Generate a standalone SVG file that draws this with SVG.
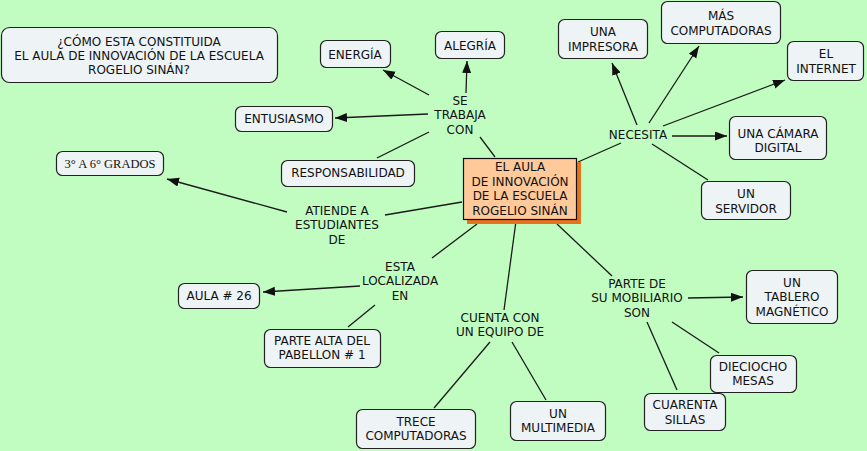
<svg xmlns="http://www.w3.org/2000/svg" width="867" height="451" viewBox="0 0 867 451">
<defs>
<marker id="arr" markerUnits="userSpaceOnUse" markerWidth="13" markerHeight="10" refX="12" refY="4.5" orient="auto">
<path d="M0,0 L12,4.5 L0,9 z" fill="#111"/>
</marker>
<style>
.bg{fill:#c1fdc1}
.n{fill:#eef3f6;stroke:#222;stroke-width:1.2}
.t{font-family:"DejaVu Sans",Verdana,sans-serif;font-size:12px;fill:#111;text-anchor:middle}
.s{font-family:"Liberation Serif","Times New Roman",serif;font-size:12.5px;fill:#111;text-anchor:middle}
.c{stroke:#1a1a1a;stroke-width:1.3;fill:none}
.a{stroke:#1a1a1a;stroke-width:1.3;fill:none;marker-end:url(#arr)}
</style>
</defs>
<rect class="bg" x="0" y="0" width="867" height="451"/>
<g id="connectors">
<line class="c" x1="495" y1="157" x2="480" y2="137"/>
<line class="a" x1="429" y1="95" x2="383" y2="70"/>
<line class="a" x1="466" y1="93" x2="467" y2="61"/>
<line class="a" x1="428" y1="114" x2="335" y2="118"/>
<line class="c" x1="429" y1="132" x2="377" y2="158"/>
<line class="c" x1="462" y1="202" x2="385" y2="215"/>
<line class="a" x1="287" y1="212" x2="167" y2="179"/>
<line class="c" x1="477" y1="224" x2="432" y2="258"/>
<line class="a" x1="360" y1="286" x2="263" y2="292"/>
<line class="c" x1="375" y1="305" x2="348" y2="327"/>
<line class="c" x1="516" y1="221" x2="504" y2="310"/>
<line class="c" x1="490" y1="342" x2="434" y2="408"/>
<line class="c" x1="512" y1="342" x2="546" y2="400"/>
<line class="c" x1="557" y1="224" x2="612" y2="276"/>
<line class="a" x1="688" y1="298" x2="743" y2="297"/>
<line class="c" x1="672" y1="322" x2="719" y2="353"/>
<line class="c" x1="647" y1="322" x2="677" y2="390"/>
<line class="c" x1="578" y1="162" x2="621" y2="143"/>
<line class="a" x1="637" y1="125" x2="612" y2="63"/>
<line class="a" x1="649" y1="123" x2="699" y2="46"/>
<line class="a" x1="663" y1="126" x2="785" y2="80"/>
<line class="a" x1="672" y1="136" x2="727" y2="136"/>
<line class="c" x1="652" y1="144" x2="708" y2="180"/>
</g>
<g id="title">
<rect class="n" x="1.5" y="27.5" width="276" height="55" rx="8"/>
<text class="t" x="139" y="46.4">¿CÓMO ESTA CONSTITUIDA</text>
<text class="t" x="139" y="60.4">EL AULA DE INNOVACIÓN DE LA ESCUELA</text>
<text class="t" x="139" y="74.4">ROGELIO SINÁN?</text>
</g>
<g id="center">
<rect x="467" y="162" width="114" height="62" fill="#e8731e"/>
<rect x="463.5" y="158.5" width="113" height="61" fill="#ffc99a" stroke="#111" stroke-width="1.2"/>
<text class="t" x="520" y="171">EL AULA</text>
<text class="t" x="520" y="185.5"> DE INNOVACIÓN</text>
<text class="t" x="520" y="200">DE LA ESCUELA</text>
<text class="t" x="520" y="214.5">ROGELIO SINÁN</text>
</g>
<g id="energia">
<rect class="n" x="320.5" y="40.5" width="70" height="27" rx="6"/>
<text class="t" x="355" y="59.4">ENERGÍA</text>
</g>
<g id="alegria">
<rect class="n" x="435.5" y="31.5" width="69" height="27" rx="6"/>
<text class="t" x="470" y="50">ALEGRÍA</text>
</g>
<g id="entusiasmo">
<rect class="n" x="235.5" y="106.5" width="97" height="25" rx="6"/>
<text class="t" x="284" y="123.4">ENTUSIASMO</text>
</g>
<g id="responsabilidad">
<rect class="n" x="281.5" y="160.5" width="133" height="26" rx="6"/>
<text class="t" x="348" y="177.4">RESPONSABILIDAD</text>
</g>
<g id="se-trabaja-con">
<text class="t" x="460" y="104.5">SE</text>
<text class="t" x="460" y="119">TRABAJA</text>
<text class="t" x="460" y="133.5">CON</text>
</g>
<g id="grados">
<rect class="n" x="56.5" y="151.5" width="107" height="24" rx="6"/>
<text class="s" x="110" y="168.3">3° A 6° GRADOS</text>
</g>
<g id="atiende">
<text class="t" x="337" y="215">ATIENDE A</text>
<text class="t" x="337" y="229.4">ESTUDIANTES</text>
<text class="t" x="337" y="243.7">DE</text>
</g>
<g id="localizada">
<text class="t" x="400" y="271">ESTA</text>
<text class="t" x="400" y="285.3">LOCALIZADA</text>
<text class="t" x="400" y="299.6">EN</text>
</g>
<g id="aula26">
<rect class="n" x="178.5" y="283.5" width="81" height="25" rx="6"/>
<text class="t" x="219" y="300.2">AULA # 26</text>
</g>
<g id="parte-alta">
<rect class="n" x="264.5" y="329.5" width="116" height="38" rx="6"/>
<text class="t" x="322" y="345">PARTE ALTA DEL</text>
<text class="t" x="322" y="359.4">PABELLON # 1</text>
</g>
<g id="cuenta-con">
<text class="t" x="500" y="321.7">CUENTA CON</text>
<text class="t" x="500" y="336">UN EQUIPO DE</text>
</g>
<g id="trece">
<rect class="n" x="356.5" y="409.5" width="119" height="39" rx="6"/>
<text class="t" x="416" y="426">TRECE</text>
<text class="t" x="416" y="440.3">COMPUTADORAS</text>
</g>
<g id="multimedia">
<rect class="n" x="510.5" y="401.5" width="95" height="39" rx="6"/>
<text class="t" x="558" y="417.7">UN</text>
<text class="t" x="558" y="431.9">MULTIMEDIA</text>
</g>
<g id="mobiliario">
<text class="t" x="637" y="287.7">PARTE DE</text>
<text class="t" x="637" y="302.1">SU MOBILIARIO</text>
<text class="t" x="637" y="316.6">SON</text>
</g>
<g id="tablero">
<rect class="n" x="746.5" y="270.5" width="91" height="53" rx="6"/>
<text class="t" x="792" y="287">UN</text>
<text class="t" x="792" y="301.4">TABLERO</text>
<text class="t" x="792" y="315.9">MAGNÉTICO</text>
</g>
<g id="dieciocho">
<rect class="n" x="710.5" y="355.5" width="86" height="37" rx="6"/>
<text class="t" x="753" y="371">DIECIOCHO</text>
<text class="t" x="753" y="385.2">MESAS</text>
</g>
<g id="cuarenta">
<rect class="n" x="644.5" y="393.5" width="81" height="37" rx="6"/>
<text class="t" x="685" y="409.4">CUARENTA</text>
<text class="t" x="685" y="423.6">SILLAS</text>
</g>
<g id="necesita">
<text class="t" x="638" y="139.4">NECESITA</text>
</g>
<g id="impresora">
<rect class="n" x="558.5" y="19.5" width="89" height="39" rx="6"/>
<text class="t" x="603" y="36">UNA</text>
<text class="t" x="603" y="51">IMPRESORA</text>
</g>
<g id="mas-computadoras">
<rect class="n" x="661.5" y="1.5" width="119" height="42" rx="6"/>
<text class="t" x="721" y="20.4">MÁS</text>
<text class="t" x="721" y="35">COMPUTADORAS</text>
</g>
<g id="internet">
<rect class="n" x="787.5" y="41.5" width="76" height="39" rx="6"/>
<text class="t" x="826" y="57.7">EL</text>
<text class="t" x="826" y="72.7">INTERNET</text>
</g>
<g id="camara">
<rect class="n" x="729.5" y="116.5" width="97" height="43" rx="6"/>
<text class="t" x="778" y="137.7">UNA CÁMARA</text>
<text class="t" x="778" y="151.7">DIGITAL</text>
</g>
<g id="servidor">
<rect class="n" x="701.5" y="181.5" width="89" height="38" rx="6"/>
<text class="t" x="746" y="197.7">UN</text>
<text class="t" x="746" y="212.7">SERVIDOR</text>
</g>
</svg>
